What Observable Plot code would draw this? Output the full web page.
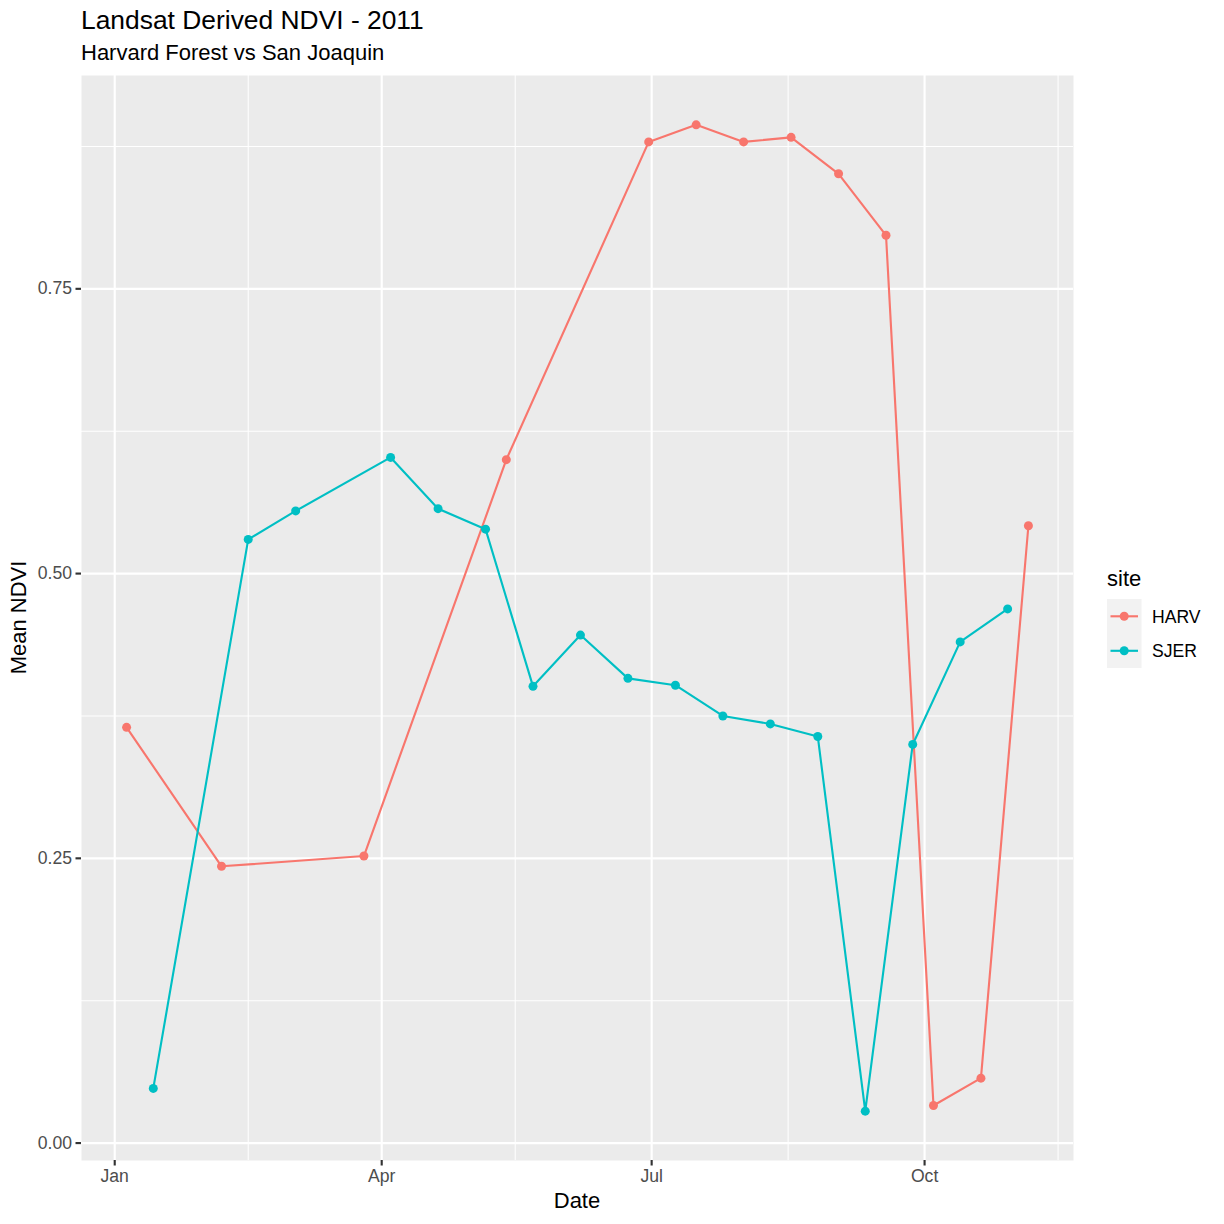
<!DOCTYPE html>
<html>
<head>
<meta charset="utf-8">
<script src="https://cdn.jsdelivr.net/npm/d3@7"></script>
<script src="https://cdn.jsdelivr.net/npm/@observablehq/plot@0.6"></script>
<style>
  html, body { margin: 0; padding: 0; background: #ffffff; }
  #chart { position: relative; width: 1224px; height: 1224px; }
</style>
</head>
<body>
<div id="chart"></div>
<script>
const titleText = "Landsat Derived NDVI - 2011";
const subtitleText = "Harvard Forest vs San Joaquin";
const xLabel = "Date";
const yLabel = "Mean NDVI";
const legendTitle = "site";
const sites = ["HARV", "SJER"];
const siteColors = ["#F8766D", "#00BFC4"];

const harvDates = ["2011-01-05","2011-02-06","2011-03-26","2011-05-13","2011-06-30","2011-07-16","2011-08-01","2011-08-17","2011-09-02","2011-09-18","2011-10-04","2011-10-20","2011-11-05"];
const harvNDVI = [0.365, 0.243, 0.252, 0.600, 0.879, 0.894, 0.879, 0.883, 0.851, 0.797, 0.033, 0.057, 0.542];

const sjerDates = ["2011-01-14","2011-02-15","2011-03-03","2011-04-04","2011-04-20","2011-05-06","2011-05-22","2011-06-07","2011-06-23","2011-07-09","2011-07-25","2011-08-10","2011-08-26","2011-09-11","2011-09-27","2011-10-13","2011-10-29"];
const sjerNDVI = [0.048, 0.530, 0.555, 0.602, 0.557, 0.539, 0.401, 0.446, 0.408, 0.402, 0.375, 0.368, 0.357, 0.028, 0.350, 0.440, 0.469];

const xMajorTicks = ["2011-01-01","2011-04-01","2011-07-01","2011-10-01"];
const xMinorTicks = ["2011-02-15","2011-05-16","2011-08-16","2011-11-15"];
const yMajorTicks = [0, 0.25, 0.5, 0.75];
const yMinorTicks = [0.125, 0.375, 0.625, 0.875];

const parse = s => new Date(s + "T00:00:00Z");
const data = [
  ...harvDates.map((d, i) => ({date: parse(d), ndvi: harvNDVI[i], site: "HARV"})),
  ...sjerDates.map((d, i) => ({date: parse(d), ndvi: sjerNDVI[i], site: "SJER"}))
];

// ggplot-like 5% expansion
const xExt = d3.extent(data, d => +d.date);
const xPad = (xExt[1] - xExt[0]) * 0.05;
const yExt = d3.extent(data, d => d.ndvi);
const yPad = (yExt[1] - yExt[0]) * 0.05;

const font = "'Liberation Sans', Arial, Helvetica, sans-serif";

const plot = Plot.plot({
  width: 1224,
  height: 1224,
  marginLeft: 81,
  marginRight: 151,
  marginTop: 75,
  marginBottom: 64,
  style: {fontFamily: font, background: "#ffffff", overflow: "visible"},
  x: {type: "utc", domain: [new Date(xExt[0] - xPad), new Date(xExt[1] + xPad)]},
  y: {domain: [yExt[0] - yPad, yExt[1] + yPad]},
  color: {domain: sites, range: siteColors},
  marks: [
    Plot.frame({fill: "#EBEBEB", stroke: null}),
    Plot.ruleY(yMinorTicks, {stroke: "#ffffff", strokeWidth: 1.07}),
    Plot.ruleX(xMinorTicks.map(parse), {stroke: "#ffffff", strokeWidth: 1.07}),
    Plot.ruleY(yMajorTicks, {stroke: "#ffffff", strokeWidth: 2.13}),
    Plot.ruleX(xMajorTicks.map(parse), {stroke: "#ffffff", strokeWidth: 2.13}),
    Plot.axisY({ticks: yMajorTicks, tickFormat: d3.format(".2f"), tickSize: 5.5, tickPadding: 4, fontSize: 17.6, fill: "#4D4D4D", stroke: "#333333", strokeWidth: 2.13, label: null}),
    Plot.axisX({ticks: xMajorTicks.map(parse), tickFormat: d3.utcFormat("%b"), tickSize: 5.5, tickPadding: 3, fontSize: 17.6, fill: "#4D4D4D", stroke: "#333333", strokeWidth: 2.13, label: null}),
    Plot.line(data, {x: "date", y: "ndvi", stroke: "site", z: "site", strokeWidth: 2.13}),
    Plot.dot(data, {x: "date", y: "ndvi", fill: "site", r: 4.5, stroke: null})
  ]
});

const svg = d3.select(plot);
const txt = (x, y, s, size, opts = {}) => {
  const t = svg.append("text").attr("x", x).attr("y", y).text(s)
    .attr("font-family", font).attr("font-size", size).attr("fill", opts.fill || "#000000")
    .attr("text-anchor", opts.anchor || "start");
  if (opts.transform) t.attr("transform", opts.transform);
  return t;
};
txt(81, 29, titleText, 26.4);
txt(81, 60, subtitleText, 22);
txt(577, 1208, xLabel, 22, {anchor: "middle"});
txt(0, 0, yLabel, 22, {anchor: "middle", transform: "translate(26,617.5) rotate(-90)"});

// legend
txt(1107, 586, legendTitle, 22);
svg.append("rect").attr("x", 1107).attr("y", 599).attr("width", 34.5).attr("height", 69).attr("fill", "#F2F2F2");
sites.forEach((s, i) => {
  const cy = 616.3 + i * 34.5;
  svg.append("line").attr("x1", 1110.5).attr("x2", 1138).attr("y1", cy).attr("y2", cy)
    .attr("stroke", siteColors[i]).attr("stroke-width", 2.13);
  svg.append("circle").attr("cx", 1124.2).attr("cy", cy).attr("r", 4.5).attr("fill", siteColors[i]);
  txt(1152, cy + 6.3, s, 17.6);
});

document.getElementById("chart").appendChild(plot);
</script>
</body>
</html>
